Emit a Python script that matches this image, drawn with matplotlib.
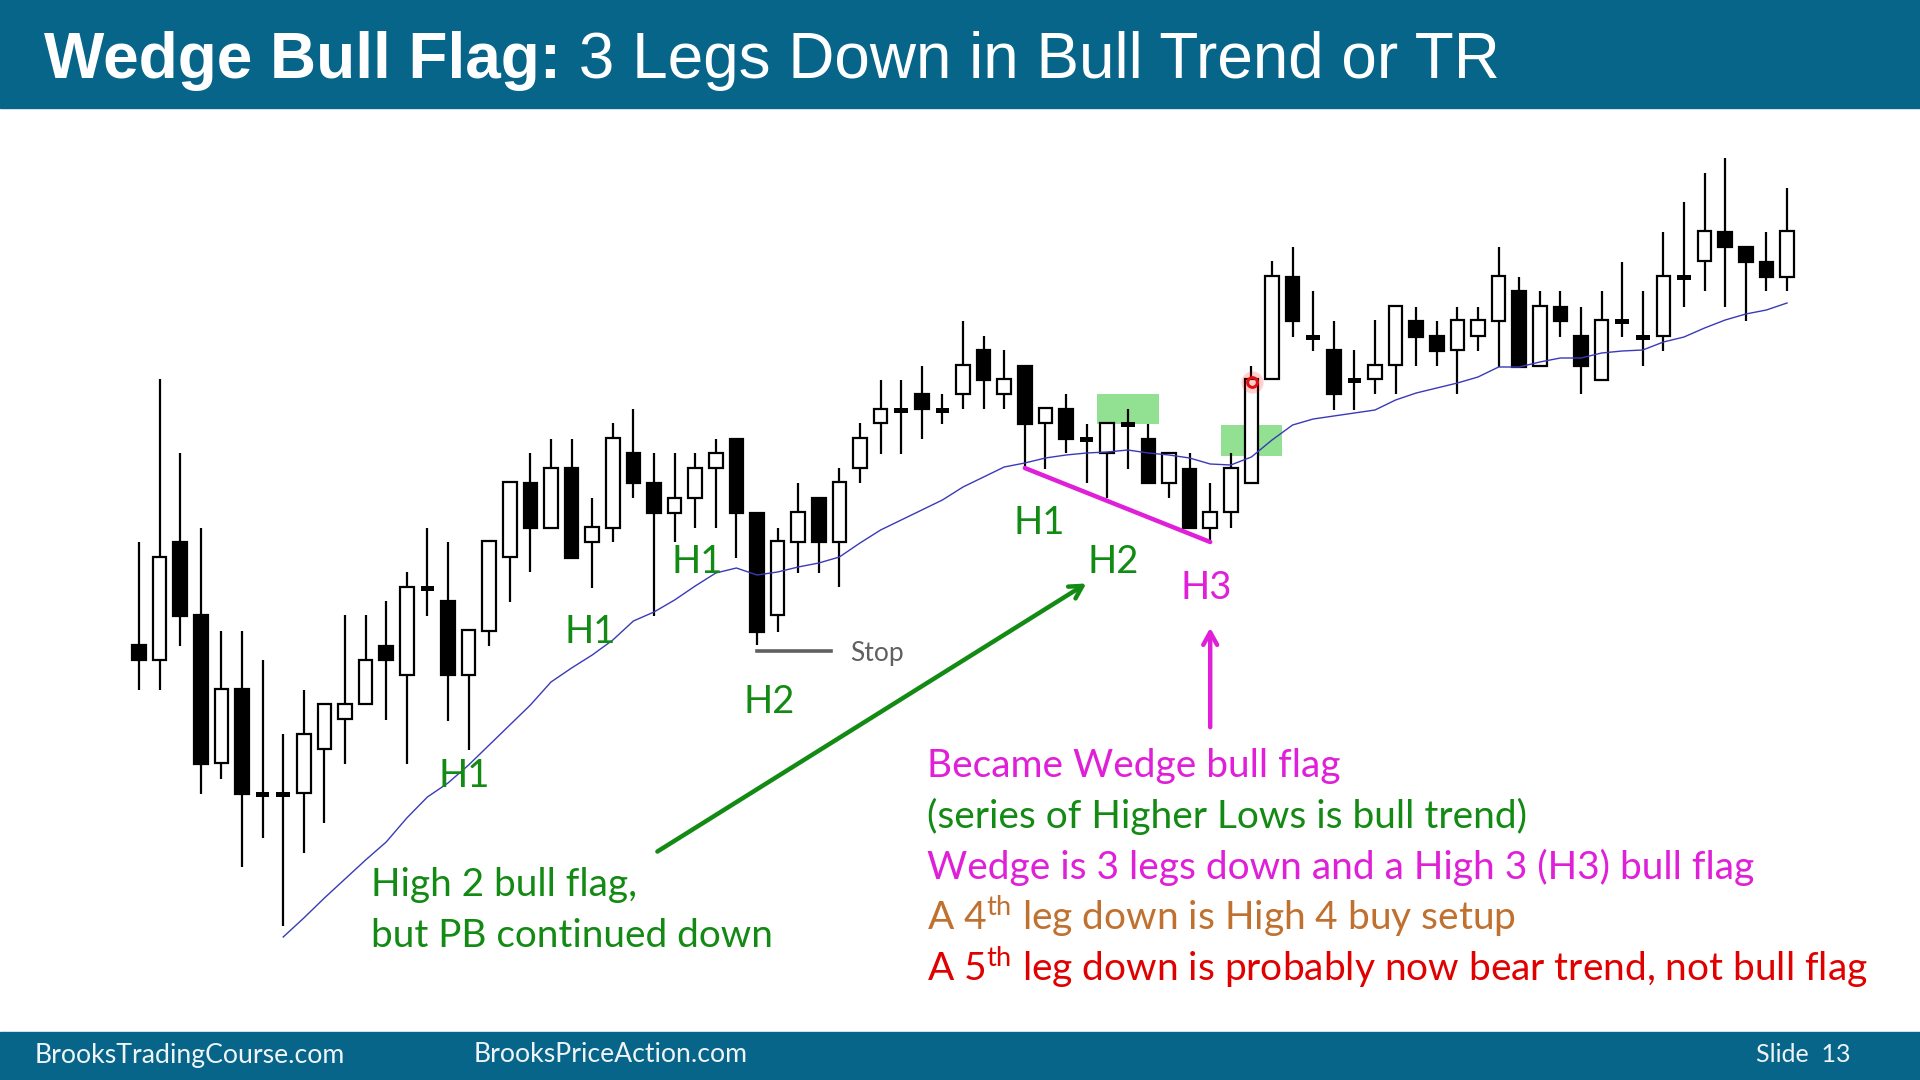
import numpy as np
import matplotlib.pyplot as plt
from matplotlib.patches import Rectangle

plt.rcParams['font.family'] = ['Lato', 'DejaVu Sans']
plt.rcParams['mathtext.fontset'] = 'custom'
plt.rcParams['mathtext.rm'] = 'Lato'
plt.rcParams['mathtext.it'] = 'Lato:italic'
plt.rcParams['mathtext.bf'] = 'Lato:bold'

# price bars (unlabelled price scale)
opens = [355, 340, 458, 385, 237, 311, 206, 206, 207, 251, 281, 296, 354, 325, 412, 399,
         325, 369, 443, 517, 472, 532, 458, 472, 547, 517, 487, 502, 532, 561, 487, 385,
         458, 502, 458, 532, 577, 590, 606, 590, 606, 650, 606, 634, 577, 591, 561, 547,
         576, 561, 517, 531, 472, 488, 517, 621, 723, 663, 650, 620, 621, 635, 679, 664,
         650, 664, 679, 709, 634, 693, 664, 620, 679, 663, 664, 723, 739, 768, 753, 738, 723]
highs = [458, 621, 547, 472, 369, 369, 340, 266, 310, 296, 385, 385, 399, 428, 472, 458,
         370, 459, 518, 547, 561, 561, 502, 577, 591, 547, 547, 547, 561, 561, 487, 472,
         517, 502, 532, 577, 620, 620, 634, 606, 679, 664, 650, 634, 592, 606, 576, 577,
         591, 576, 547, 547, 517, 547, 634, 739, 753, 709, 679, 650, 680, 694, 693, 679,
         693, 693, 753, 723, 709, 709, 693, 709, 738, 709, 768, 798, 827, 842, 753, 768, 812]
lows = [310, 310, 354, 206, 221, 133, 162, 74, 147, 177, 236, 296, 280, 236, 384, 279,
        250, 354, 398, 428, 472, 442, 412, 458, 502, 384, 458, 472, 472, 442, 355, 368,
        427, 427, 413, 517, 546, 546, 561, 576, 591, 591, 591, 532, 531, 547, 517, 502,
        531, 517, 502, 472, 458, 472, 517, 621, 663, 649, 590, 590, 606, 606, 634, 634,
        606, 649, 633, 633, 634, 663, 606, 620, 663, 634, 649, 693, 709, 693, 679, 709, 709]
closes = [340, 443, 384, 236, 311, 206, 206, 206, 266, 296, 296, 340, 340, 413, 412, 325,
          370, 459, 518, 472, 532, 442, 473, 562, 517, 487, 502, 532, 547, 487, 368, 459,
          488, 458, 518, 562, 591, 590, 591, 590, 635, 620, 621, 576, 592, 561, 561, 577,
          576, 517, 547, 472, 488, 532, 621, 724, 679, 663, 606, 620, 635, 694, 663, 649,
          680, 680, 724, 633, 694, 679, 634, 680, 679, 663, 724, 723, 769, 753, 738, 723, 769]

# 20 bar moving average, starts at bar 8
ma_start = 7
ma = [63, 82, 102, 121, 140, 158, 182, 203, 217, 235, 255, 275, 295, 318, 332, 345,
      360, 379, 388, 400, 414, 427, 432, 425, 428, 433, 437, 443, 457, 470, 480, 490,
      500, 513, 523, 533, 537, 542, 545, 547, 548, 550, 547, 545, 542, 536, 535, 543,
      560, 575, 581, 584, 587, 590, 600, 607, 612, 617, 623, 633, 633, 638, 642, 642,
      647, 649, 650, 658, 663, 672, 680, 686, 690, 697]

bar_labels = ["H1", "H1", "H1", "H2", "H1", "H2", "H3"]

notes = [
    "Became Wedge bull flag",
    "(series of Higher Lows is bull trend)",
    "Wedge is 3 legs down and a High 3 (H3) bull flag",
    "A 4$^{\\mathrm{th}}$ leg down is High 4 buy setup",
    "A 5$^{\\mathrm{th}}$ leg down is probably now bear trend, not bull flag",
]

TEAL = "#08658a"
GREEN = "#138a13"
MAGENTA = "#e01fd8"
BROWN = "#c0702f"
RED = "#e00000"
W, H = 1920, 1080


def fp(x, y):
    # pixel position -> figure fraction
    return x / W, 1 - y / H


fig = plt.figure(figsize=(19.2, 10.8), dpi=100)
fig.patch.set_facecolor("white")
ax = fig.add_axes([0, 0, 1, 1])
ax.set_xlim(-139 / 20.6, (W - 139) / 20.6)
ax.set_ylim(1000 - H, 1000)
ax.axis("off")

x = np.arange(len(opens))
o = np.array(opens, float)
c = np.array(closes, float)

# green entry zones
ax.add_patch(Rectangle((46.5, 576), 3, 30, color="#92e092", zorder=1, lw=0))
ax.add_patch(Rectangle((52.5, 544), 3, 31, color="#92e092", zorder=1, lw=0))

# candles
ax.vlines(x, lows, highs, color="black", lw=1.6, zorder=2)
up = c > o
dn = c < o
dj = c == o
bw = 0.66
ax.bar(x[up], (c - o)[up], bottom=o[up], width=bw, color="white",
       edgecolor="black", lw=1.6, zorder=3)
ax.bar(x[dn], (o - c)[dn], bottom=c[dn], width=bw, color="black",
       edgecolor="black", lw=1.6, zorder=3)
ax.bar(x[dj], 5, bottom=o[dj] - 2.5, width=bw, color="black", lw=0, zorder=3)

# moving average
ax.plot(x[ma_start:ma_start + len(ma)], ma, color="#3a3ab8", lw=1.0, zorder=4)

# wedge line across the three pullback lows
ax.plot([43, 52], [lows[43], lows[52]], color=MAGENTA, lw=3.2, zorder=4,
        solid_capstyle="round")

# stop line
ax.plot([30, 33.6], [349, 349], color="#606060", lw=2.6, zorder=4)
ax.text(34.5, 347, "Stop", color="#606060", fontsize=19, va="center", ha="left")

# signal bar marker
ax.plot(54.05, 618, "o", ms=16, color="red", alpha=0.18, mew=0, zorder=5)
ax.plot(54.05, 618, "o", ms=7, mfc="none", mec="#e01010", mew=2.2, zorder=6)

# H labels
label_pos = [(15.8, 224), (21.9, 368), (27.1, 438), (30.6, 298),
             (43.7, 477), (47.3, 438), (51.8, 412)]
for lab, (lx, ly) in zip(bar_labels, label_pos):
    col = MAGENTA if lab == "H3" else GREEN
    ax.text(lx, ly, lab, color=col, fontsize=27.5, ha="center", va="center", zorder=6)

# arrows
ax.annotate("", xy=(46.1, 418), xytext=(25.05, 147),
            arrowprops=dict(arrowstyle="->,head_length=0.9,head_width=0.5",
                            color=GREEN, lw=3.2))
ax.annotate("", xy=(52.0, 375), xytext=(52.0, 270),
            arrowprops=dict(arrowstyle="->,head_length=0.9,head_width=0.5",
                            color=MAGENTA, lw=3.2))

# left note
fig.text(*fp(371, 896), "High 2 bull flag,", color=GREEN, fontsize=27.9, va="baseline")
fig.text(*fp(371, 947), "but PB continued down", color=GREEN, fontsize=27.9, va="baseline")

# right notes
note_colors = [MAGENTA, GREEN, MAGENTA, BROWN, RED]
for k, (txt, col) in enumerate(zip(notes, note_colors)):
    fig.text(*fp(927, 777 + 51 * k), txt, color=col, fontsize=28.0, va="baseline")

# title bar
fig.add_artist(Rectangle(fp(0, 108), 1, 108 / H, transform=fig.transFigure,
                         color=TEAL, zorder=0))
t1 = fig.text(*fp(44, 61), "Wedge Bull Flag:", color="white", fontsize=46,
              fontweight="bold", family="Liberation Sans", va="center")
ax.annotate(" 3 Legs Down in Bull Trend or TR", xy=(1, 0), xycoords=t1,
            color="white", fontsize=46, family="Liberation Sans",
            va="bottom", ha="left", annotation_clip=False)

# footer bar
fig.add_artist(Rectangle((0, 0), 1, 48 / H, transform=fig.transFigure,
                         color=TEAL, zorder=0))
fig.text(*fp(35, 1055), "BrooksTradingCourse.com", color="#eef4f7", fontsize=19.2, va="center")
fig.text(*fp(474, 1055), "BrooksPriceAction.com", color="#eef4f7", fontsize=19.2, va="center")
fig.text(*fp(1851, 1055), "Slide  13", color="#eef4f7", fontsize=18, va="center", ha="right")

fig.savefig("out.png", dpi=100)
